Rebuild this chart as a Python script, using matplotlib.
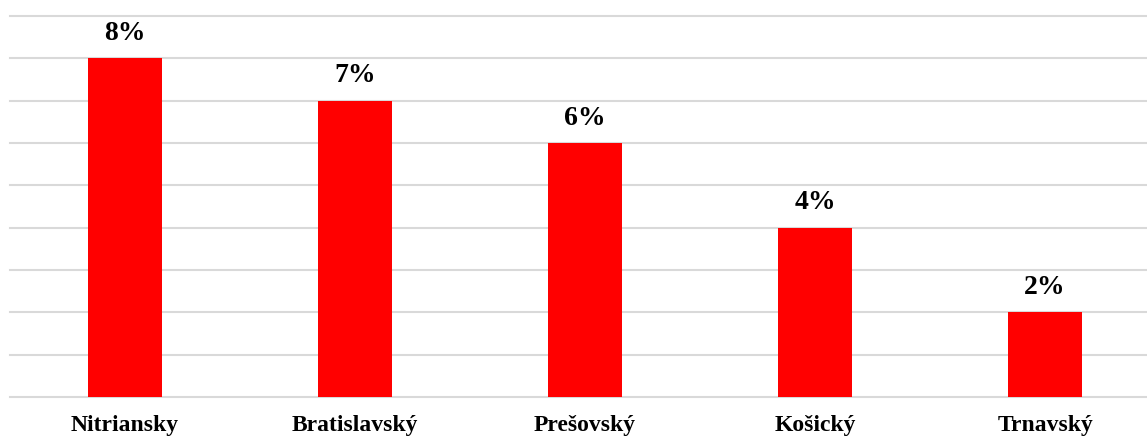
import matplotlib.pyplot as plt

# Data
regions = ["Nitriansky", "Bratislavský", "Prešovský", "Košický", "Trnavský"]
shares = [8, 7, 6, 4, 2]
labels = ["8%", "7%", "6%", "4%", "2%"]

plt.rcParams['font.family'] = ['Liberation Serif', 'DejaVu Serif']

fig = plt.figure(figsize=(11.47, 4.36), dpi=100)
ax = fig.add_axes([10 / 1147, 39 / 436, 1 - 10 / 1147, 381 / 436])

x = range(len(regions))
bars = ax.bar(x, shares, width=0.32, color="#ff0000", zorder=3)

for b, lab in zip(bars, labels):
    ax.annotate(lab, (b.get_x() + b.get_width() / 2, b.get_height()),
                xytext=(0, 9), textcoords="offset points",
                ha="center", va="bottom", fontsize=20, fontweight="bold")

ax.set_ylim(0, 9)
ax.set_xlim(-0.5, 4.443)
ax.set_yticks(range(0, 10))
ax.yaxis.grid(True, color="#d9d9d9", linewidth=1.5, zorder=0)
for gl in ax.get_ygridlines():
    gl.set_clip_on(False)
ax.set_yticklabels([])
ax.tick_params(axis="y", length=0)
ax.tick_params(axis="x", length=0, pad=13)
ax.set_xticks(list(x))
ax.set_xticklabels(regions, fontsize=17, fontweight="bold")
for s in ax.spines.values():
    s.set_visible(False)

fig.savefig("out.png", dpi=100)
